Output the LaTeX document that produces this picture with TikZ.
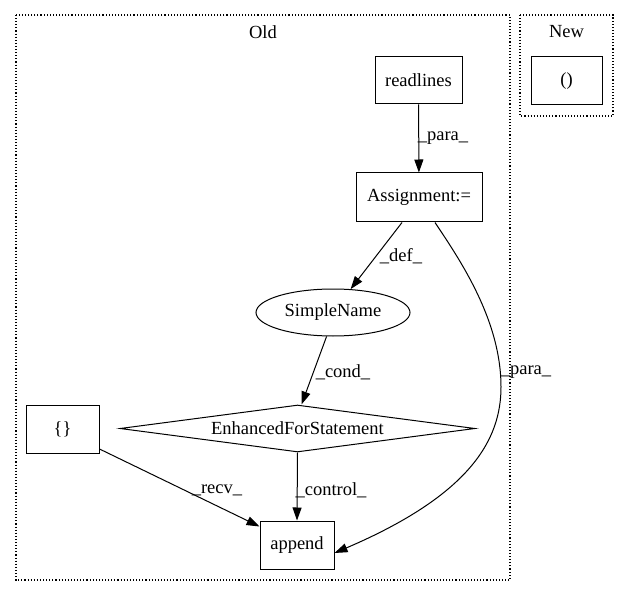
\documentclass[tikz,border=0pt]{standalone}
\usepackage{fontspec}
\setmainfont{Liberation Serif}
\usetikzlibrary{shapes.geometric,arrows.meta,calc}
\begin{document}
\begin{tikzpicture}[x=1pt,y=-1pt,
  every node/.style={font=\fontsize{18.5}{22}\selectfont},
  box/.style={draw,line width=1pt,inner sep=0pt},
  ell/.style={draw,line width=1pt,ellipse,inner sep=0pt},
  dia/.style={draw,line width=1pt,diamond,shape aspect=7.5,inner sep=0pt},
  edge/.style={draw,line width=1pt,-{Triangle[length=13pt,width=9pt]}},
  lab/.style={inner sep=0pt},
  clus/.style={draw,line width=1.1pt,dotted}]
\useasboundingbox (0,0) rectangle (629,596);
% clusters
\draw[clus] (16,15) rectangle (510,580);
\draw[clus] (520,15) rectangle (613,116);
\node[lab] (oldlab) at (263,32) {Old};
\node[lab] (newlab) at (566.5,32) {New};
% nodes
\node[box,minimum width=87pt,minimum height=47pt] (readlines) at (418.5,80.5) {readlines};
\node[box,minimum width=126pt,minimum height=49pt] (assign) at (419,197.5) {Assignment:=};
\node[ell,minimum width=154pt,minimum height=47pt] (simple) at (333,312.5) {SimpleName};
\node[dia,minimum width=355pt,minimum height=47pt] (efs) at (297.5,428.5) {EnhancedForStatement};
\node[box,minimum width=73pt,minimum height=48pt] (brace) at (62.5,429) {\{\}};
\node[box,minimum width=74pt,minimum height=48pt] (append) at (297,545) {append};
\node[box,minimum width=71pt,minimum height=48pt] (paren) at (566.5,81) {()};
% edges
\draw[edge] (readlines) -- (assign);
\node[lab] (l1) at (443,138) {\_para\_};
\draw[edge] ([xshift=-17pt]assign.south) -- (simple.53);
\node[lab] (l2) at (401,256) {\_def\_};
\draw[edge] (simple.-105) -- ([xshift=4pt]efs.north);
\node[lab] (l3) at (343,372) {\_cond\_};
\draw[edge] (efs.south) -- (append.north);
\node[lab] (l4) at (331,490) {\_control\_};
\draw[edge] ([yshift=-20pt]brace.east) -- ([yshift=-6pt]append.north west);
\node[lab] (l5) at (217,490) {\_recv\_};
\draw[edge] ([xshift=16pt]assign.south) .. controls (460,260) and (501,320) .. (501,387)
  .. controls (501,440) and (470,495) .. ([yshift=-8pt]append.east);
\node[lab] (l6) at (526,372) {\_para\_};
\end{tikzpicture}
\end{document}
